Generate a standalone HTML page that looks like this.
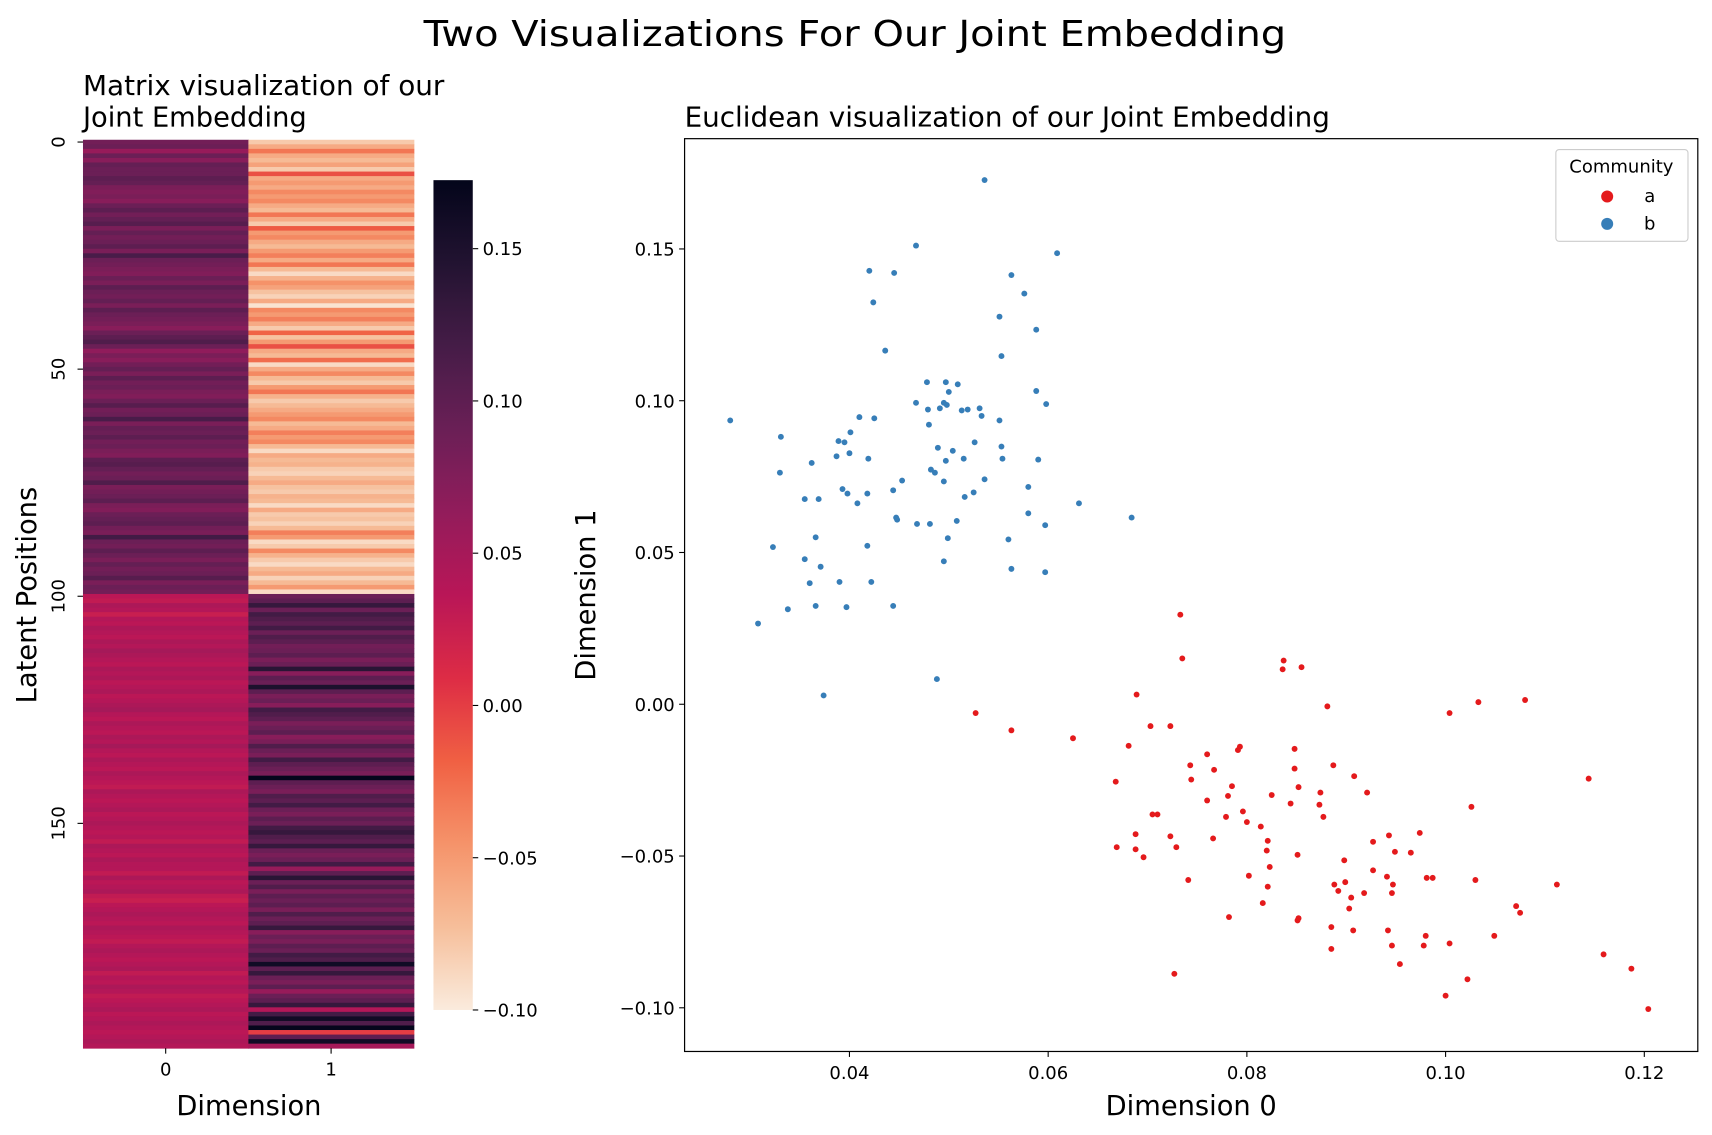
<!DOCTYPE html>
<html><head><meta charset="utf-8"><title>Two Visualizations For Our Joint Embedding</title>
<style>html,body{margin:0;padding:0;background:#fff}svg{display:block;font-family:"DejaVu Sans","Liberation Sans",sans-serif}</style></head>
<body>
<svg id="fig" width="1712" height="1135" viewBox="0 0 1568 1039.5" preserveAspectRatio="none" xmlns="http://www.w3.org/2000/svg">
<rect width="1568" height="1040" fill="#fff"/>
<text x="783" y="42" font-size="33" text-anchor="middle" textLength="790" lengthAdjust="spacingAndGlyphs">Two Visualizations For Our Joint Embedding</text>
<text x="76" y="87" font-size="25" textLength="331" lengthAdjust="spacingAndGlyphs">Matrix visualization of our</text>
<text x="76" y="116" font-size="25">Joint Embedding</text>
<text x="627" y="116" font-size="25" textLength="591" lengthAdjust="spacingAndGlyphs">Euclidean visualization of our Joint Embedding</text>
<g id="heat"></g>
<g id="cbar"></g>
<g id="scat"></g>
</svg>
<script>
// ---- heatmap data ----
const heatCol0A=[0.085,0.09,0.06,0.09,0.07,0.095,0.09,0.09,0.1,0.095,0.08,0.075,0.08,0.07,0.09,0.1,0.085,0.095,0.105,0.08,0.095,0.085,0.09,0.1,0.08,0.115,0.09,0.085,0.08,0.075,0.09,0.08,0.1,0.09,0.085,0.095,0.08,0.1,0.09,0.085,0.08,0.07,0.09,0.1,0.11,0.09,0.065,0.08,0.07,0.085,0.095,0.08,0.1,0.085,0.09,0.08,0.075,0.09,0.105,0.085,0.09,0.115,0.08,0.095,0.09,0.1,0.085,0.09,0.08,0.075,0.1,0.105,0.095,0.085,0.09,0.11,0.08,0.085,0.09,0.1,0.08,0.075,0.09,0.095,0.1,0.085,0.08,0.12,0.09,0.085,0.1,0.09,0.08,0.095,0.085,0.09,0.105,0.08,0.09,0.085];
const heatCol0B=[0.035,0.03,0.045,0.04,0.025,0.04,0.035,0.045,0.04,0.035,0.045,0.04,0.05,0.045,0.04,0.035,0.045,0.04,0.045,0.035,0.04,0.045,0.035,0.04,0.045,0.05,0.04,0.035,0.045,0.04,0.035,0.045,0.04,0.05,0.04,0.035,0.045,0.04,0.035,0.045,0.04,0.035,0.03,0.045,0.04,0.035,0.04,0.045,0.035,0.04,0.045,0.04,0.035,0.04,0.03,0.045,0.04,0.035,0.045,0.04,0.04,0.03,0.045,0.035,0.04,0.045,0.03,0.025,0.035,0.04,0.045,0.04,0.035,0.045,0.04,0.035,0.03,0.04,0.045,0.04,0.035,0.04,0.045,0.03,0.04,0.035,0.045,0.04,0.03,0.035,0.04,0.045,0.035,0.04,0.045,0.04,0.035,0.04,0.045,0.04];
const heatCol1A=[-0.08,-0.06,-0.03,-0.06,-0.07,-0.055,-0.08,-0.01,-0.06,-0.05,-0.06,-0.04,-0.05,-0.04,-0.06,-0.07,-0.03,-0.06,-0.08,-0.015,-0.05,-0.04,-0.06,-0.07,-0.05,-0.035,-0.06,-0.03,-0.07,-0.09,-0.065,-0.045,-0.055,-0.075,-0.085,-0.06,-0.095,-0.04,-0.05,-0.035,-0.06,-0.08,-0.02,-0.075,-0.05,-0.01,-0.06,-0.07,-0.025,-0.09,-0.06,-0.04,-0.07,-0.08,-0.05,-0.03,-0.065,-0.08,-0.07,-0.06,-0.05,-0.04,-0.07,-0.06,-0.035,-0.05,-0.04,-0.07,-0.09,-0.06,-0.07,-0.065,-0.08,-0.085,-0.07,-0.06,-0.075,-0.08,-0.065,-0.07,-0.09,-0.06,-0.08,-0.075,-0.085,-0.07,-0.035,-0.05,-0.09,-0.08,-0.04,-0.065,-0.08,-0.09,-0.07,-0.06,-0.085,-0.07,-0.05,-0.09];
const heatCol1B=[0.09,0.1,0.13,0.09,0.12,0.11,0.1,0.12,0.09,0.11,0.1,0.085,0.09,0.1,0.08,0.09,0.14,0.07,0.1,0.09,0.15,0.1,0.08,0.09,0.07,0.12,0.11,0.1,0.08,0.09,0.1,0.07,0.08,0.11,0.09,0.08,0.12,0.1,0.09,0.08,0.17,0.1,0.09,0.08,0.11,0.1,0.12,0.09,0.08,0.1,0.09,0.12,0.13,0.11,0.1,0.13,0.09,0.08,0.09,0.12,0.06,0.1,0.14,0.09,0.11,0.08,0.1,0.09,0.1,0.08,0.11,0.09,0.1,0.13,0.07,0.09,0.08,0.1,0.09,0.12,0.11,0.16,0.1,0.13,0.09,0.08,0.1,0.06,0.09,0.1,0.13,0.04,0.12,0.16,0.11,0.17,0.0,0.1,0.16,0.05];
const heatRowTicks=[0,50,100,150];
const heatColLabels=["0","1"];
const cbarTicks=[-0.10,-0.05,0.00,0.05,0.10,0.15];
const cbarTickLabels=["\u22120.10","\u22120.05","0.00","0.05","0.10","0.15"];
// ---- scatter data ----
const blueX=[.0536,.0467,.0420,.0445,.0424,.0436,.0563,.0576,.0551,.0588,.0553,.0609,.0478,.0497,.0509,.0500,.0467,.0479,.0491,.0495,.0498,.0513,.0519,.0531,.0533,.0551,.0588,.0598,.0480,.0410,.0425,.0280,.0331,.0401,.0389,.0395,.0400,.0387,.0362,.0419,.0489,.0504,.0526,.0553,.0497,.0515,.0554,.0590,.0330,.0393,.0398,.0408,.0418,.0369,.0355,.0453,.0444,.0482,.0486,.0495,.0536,.0580,.0516,.0525,.0448,.0447,.0468,.0481,.0508,.0499,.0560,.0580,.0597,.0631,.0684,.0366,.0323,.0355,.0418,.0495,.0371,.0563,.0597,.0360,.0390,.0422,.0366,.0397,.0444,.0338,.0308,.0488,.0374];
const blueY=[.1727,.1511,.1428,.1421,.1324,.1165,.1414,.1353,.1277,.1234,.1147,.1486,.1061,.1061,.1054,.1029,.0993,.0971,.0975,.0993,.0986,.0968,.0971,.0975,.0950,.0935,.1032,.0989,.0921,.0946,.0942,.0935,.0881,.0896,.0867,.0863,.0827,.0817,.0795,.0809,.0845,.0835,.0863,.0849,.0802,.0809,.0809,.0806,.0763,.0709,.0694,.0662,.0694,.0676,.0676,.0737,.0705,.0773,.0763,.0734,.0741,.0716,.0683,.0698,.0608,.0615,.0594,.0594,.0604,.0547,.0543,.0629,.0590,.0662,.0615,.0550,.0518,.0478,.0522,.0471,.0453,.0446,.0435,.0399,.0403,.0403,.0324,.0320,.0324,.0313,.0266,.0083,.0029];
const redX=[.0733,.0735,.0837,.0836,.0855,.0689,.0881,.1004,.1033,.1080,.0527,.0563,.0625,.0703,.0723,.0681,.0793,.0791,.0848,.0760,.0785,.0743,.0767,.0744,.0848,.0887,.0908,.0668,.0852,.1144,.0874,.0921,.0844,.0873,.0760,.0781,.0825,.0796,.0779,.0877,.1026,.0705,.0710,.0814,.0800,.0688,.0723,.0766,.0729,.0821,.0820,.0741,.0669,.0688,.0696,.0823,.0927,.0943,.0965,.0851,.0898,.0949,.0974,.0899,.0927,.0941,.0892,.0918,.0946,.0888,.0947,.0981,.0987,.1030,.1112,.0802,.0816,.0851,.0852,.0782,.0905,.0821,.0903,.0885,.0907,.0942,.0980,.0946,.0978,.1004,.1049,.1071,.1075,.0885,.0954,.0727,.1022,.1000,.1159,.1187,.1204];
const redY=[.0295,.0151,.0144,.0115,.0122,.0032,-.0007,-.0029,.0007,.0014,-.0029,-.0086,-.0112,-.0072,-.0072,-.0137,-.0140,-.0151,-.0147,-.0165,-.0270,-.0201,-.0216,-.0248,-.0212,-.0201,-.0237,-.0255,-.0273,-.0245,-.0291,-.0291,-.0327,-.0331,-.0317,-.0302,-.0299,-.0353,-.0371,-.0371,-.0338,-.0363,-.0363,-.0403,-.0388,-.0428,-.0435,-.0442,-.0471,-.0450,-.0482,-.0579,-.0471,-.0478,-.0504,-.0536,-.0453,-.0432,-.0489,-.0496,-.0514,-.0486,-.0424,-.0586,-.0547,-.0568,-.0615,-.0622,-.0622,-.0594,-.0594,-.0572,-.0572,-.0579,-.0594,-.0565,-.0655,-.0712,-.0705,-.0701,-.0637,-.0601,-.0673,-.0734,-.0745,-.0745,-.0763,-.0795,-.0795,-.0788,-.0763,-.0665,-.0687,-.0806,-.0856,-.0888,-.0906,-.0960,-.0824,-.0871,-.1004];
const xTicks=[0.04,0.06,0.08,0.10,0.12];
const xTickLabels=["0.04","0.06","0.08","0.10","0.12"];
const yTicks=[-0.10,-0.05,0.00,0.05,0.10,0.15];
const yTickLabels=["\u22120.10","\u22120.05","0.00","0.05","0.10","0.15"];

const NS="http://www.w3.org/2000/svg";
const TF=16.5;
function mk(tag,attrs,parent){const e=document.createElementNS(NS,tag);for(const k in attrs)e.setAttribute(k,attrs[k]);parent.appendChild(e);return e;}
const rocket=[[3,5,26],[34,19,49],[69,28,71],[106,31,86],[146,28,91],[185,22,87],[221,44,69],[240,96,67],[245,147,106],[246,190,154],[250,235,221]];
const vmin=-0.10,vmax=0.1725;
function color(v){let t=(v-vmin)/(vmax-vmin);t=Math.max(0,Math.min(1,t));let u=(1-t)*10;let i=Math.min(9,Math.floor(u));let f=u-i;const a=rocket[i],b=rocket[i+1];return `rgb(${Math.round(a[0]+(b[0]-a[0])*f)},${Math.round(a[1]+(b[1]-a[1])*f)},${Math.round(a[2]+(b[2]-a[2])*f)})`;}

// heatmap
const H=document.getElementById('heat');
const hx0=76,hx1=379,hy0=128,hy1=960;
const col0=heatCol0A.concat(heatCol0B),col1=heatCol1A.concat(heatCol1B);
const nRows=col0.length;
const rowH=(hy1-hy0)/nRows, colW=(hx1-hx0)/2;
function rowY(i){return hy0+i*rowH;}
[col0,col1].forEach((col,c)=>{col.forEach((v,i)=>{
  const r=mk('rect',{x:hx0+c*colW,y:rowY(i),width:colW+0.5,height:rowH+0.4,fill:color(v)},H);
  
  
});});
heatRowTicks.forEach(t=>{const y=rowY(t)+rowH/2;
  mk('line',{x1:hx0-5,x2:hx0,y1:y,y2:y,stroke:'#000','stroke-width':1},H);
  const tx=mk('text',{x:0,y:0,'font-size':TF,'text-anchor':'middle',transform:`translate(59,${y}) rotate(-90)`},H);tx.textContent=String(t);
  
  
});
heatColLabels.forEach((l,c)=>{const x=hx0+colW*(c+0.5);
  mk('line',{x1:x,x2:x,y1:hy1,y2:hy1+5,stroke:'#000','stroke-width':1},H);
  const tx=mk('text',{x:x,y:hy1+25,'font-size':TF,'text-anchor':'middle'},H);tx.textContent=l;
  
  
});
let t1=mk('text',{x:228,y:1021,'font-size':25,'text-anchor':'middle'},H);t1.textContent='Dimension';


let t2=mk('text',{x:0,y:0,'font-size':25,'text-anchor':'middle',transform:'translate(33,545) rotate(-90)'},H);t2.textContent='Latent Positions';



// colorbar
const C=document.getElementById('cbar');
const cx0=397,cx1=433,cy0=165,cy1=925;
function cy(v){return cy1-(v-vmin)/(vmax-vmin)*(cy1-cy0);}
const defs=mk('defs',{},C);const g=mk('linearGradient',{id:'cg',x1:0,y1:1,x2:0,y2:0},defs);
for(let k=0;k<=20;k++){mk('stop',{offset:k/20,'stop-color':color(vmin+(vmax-vmin)*k/20)},g);}
mk('rect',{x:cx0,y:cy0,width:cx1-cx0,height:cy1-cy0,fill:'url(#cg)'},C);
cbarTicks.forEach((t,i)=>{const y=cy(t);
  mk('line',{x1:cx1,x2:cx1+5,y1:y,y2:y,stroke:'#000','stroke-width':1},C);
  const tx=mk('text',{x:cx1+9,y:y+6,'font-size':TF},C);tx.textContent=cbarTickLabels[i];
  
  
});

// scatter
const S=document.getElementById('scat');
const ax0=627,ax1=1555,ay0=127,ay1=963;
function sx(v){return 778+(v-0.04)*9100;}
function sy(v){return 645-v*2780;}
blueX.forEach((v,i)=>{const c=mk('circle',{cx:sx(v),cy:sy(blueY[i]),r:2.7,fill:'#377eb8'},S);
  
  });
redX.forEach((v,i)=>{const c=mk('circle',{cx:sx(v),cy:sy(redY[i]),r:2.7,fill:'#e41a1c'},S);
  
  });
mk('rect',{x:ax0,y:ay0,width:ax1-ax0,height:ay1-ay0,fill:'none',stroke:'#000','stroke-width':1.1},S);
xTicks.forEach((t,i)=>{const x=sx(t);
  mk('line',{x1:x,x2:x,y1:ay1,y2:ay1+5,stroke:'#000','stroke-width':1},S);
  const tx=mk('text',{x:x,y:ay1+25,'font-size':TF,'text-anchor':'middle'},S);tx.textContent=xTickLabels[i];
  
  });
yTicks.forEach((t,i)=>{const y=sy(t);
  mk('line',{x1:ax0-5,x2:ax0,y1:y,y2:y,stroke:'#000','stroke-width':1},S);
  const tx=mk('text',{x:ax0-9,y:y+6,'font-size':TF,'text-anchor':'end'},S);tx.textContent=yTickLabels[i];
  
  });
let t3=mk('text',{x:1091,y:1021,'font-size':25,'text-anchor':'middle'},S);t3.textContent='Dimension 0';


let t4=mk('text',{x:0,y:0,'font-size':25,'text-anchor':'middle',transform:'translate(545,545) rotate(-90)'},S);t4.textContent='Dimension 1';


// legend
const L=mk('g',{},S);


mk('rect',{x:1425,y:137,width:121,height:84,rx:3,fill:'#fff',stroke:'#ccc','stroke-width':1},L);
let lt=mk('text',{x:1485,y:158,'font-size':TF,'text-anchor':'middle'},L);lt.textContent='Community';


[['a','#e41a1c',180],['b','#377eb8',205]].forEach(([l,c,y])=>{
  const m=mk('circle',{cx:1472,cy:y,r:5.5,fill:c},L);
  
  
  const tx=mk('text',{x:1511,y:y+5,'font-size':TF,'text-anchor':'middle'},L);tx.textContent=l;
  
  
});
</script>
</body></html>
